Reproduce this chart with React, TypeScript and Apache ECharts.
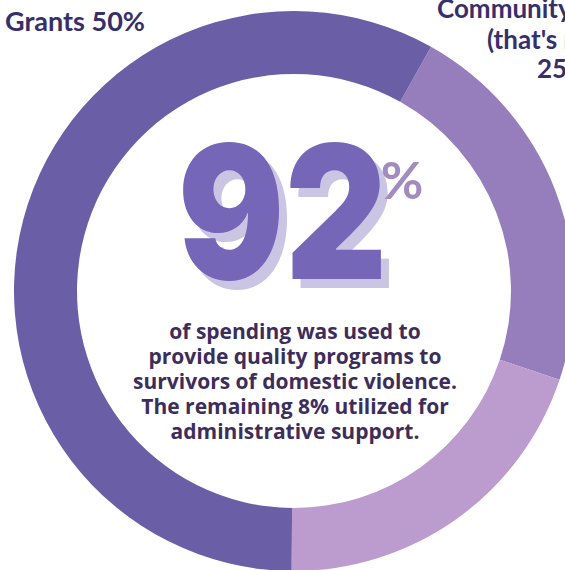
import React, { useEffect, useRef } from "react";
import * as echarts from "echarts";

const categories = ["Community Programs", "Shelter Services", "Grants"];
const values = [22, 20, 58];
const colors = ["#967dbb", "#bc9bce", "#6a5ea6"];
const grantsLabel = ["Grants 50%"];
const communityLabel = ["Community Programs", "(that's roughly", "25%)"];
const bigNumber = ["9", "2"];
const bigSuffix = "%";
const paragraph = [
  "of spending was used to",
  "provide quality programs to",
  "survivors of domestic violence.",
  "The remaining 8% utilized for",
  "administrative support.",
];

export default function App() {
  const ref = useRef<HTMLDivElement>(null);
  useEffect(() => {
    if (!ref.current) return;
    const chart = echarts.init(ref.current, null, { renderer: "svg" });
    const labelColor = "#372f6a";
    const bigFont = "Inter";
    const graphic: any[] = [];
    const digitX = [231, 336];
    const digitY = 212;
    const sx = 0.85;
    bigNumber.forEach((d, i) => {
      graphic.push({
        type: "text",
        x: digitX[i] + 8,
        y: digitY + 9,
        scaleX: sx,
        style: {
          text: d,
          fill: "#cbc5e4",
          font: `900 186px ${bigFont}`,
          align: "center",
          verticalAlign: "middle",
        },
      });
    });
    bigNumber.forEach((d, i) => {
      graphic.push({
        type: "text",
        x: digitX[i],
        y: digitY,
        scaleX: sx,
        style: {
          text: d,
          fill: "#7566b8",
          font: `900 186px ${bigFont}`,
          align: "center",
          verticalAlign: "middle",
        },
      });
    });
    graphic.push({
      type: "text",
      x: 402,
      y: 179,
      style: {
        text: bigSuffix,
        fill: "#a28bbf",
        font: `700 52px Lato`,
        align: "center",
        verticalAlign: "middle",
      },
    });
    graphic.push({
      type: "text",
      x: 295,
      y: 381,
      style: {
        text: paragraph.join("\n"),
        fill: "#3d2d5a",
        font: `700 21px "Open Sans"`,
        lineHeight: 25,
        align: "center",
        verticalAlign: "middle",
      },
    });
    graphic.push({
      type: "text",
      x: 5,
      y: 20,
      style: {
        text: grantsLabel[0],
        fill: labelColor,
        font: `700 27px Lato`,
        align: "left",
        verticalAlign: "middle",
      },
    });
    const commX = [437, 487, 537];
    const commY = [8, 39, 68];
    communityLabel.forEach((t, i) => {
      graphic.push({
        type: "text",
        x: commX[i],
        y: commY[i],
        style: {
          text: t,
          fill: labelColor,
          font: `700 26px Lato`,
          align: "left",
          verticalAlign: "middle",
        },
      });
    });

    chart.setOption({
      animation: false,
      backgroundColor: "#ffffff",
      series: [
        {
          type: "pie",
          center: [294, 291],
          radius: [217, 280],
          startAngle: 60.7,
          clockwise: true,
          label: { show: false },
          labelLine: { show: false },
          emphasis: { disabled: true },
          itemStyle: { borderWidth: 0 },
          data: categories.map((c, i) => ({
            name: c,
            value: values[i],
            itemStyle: { color: colors[i] },
          })),
        },
      ],
      graphic,
    });
    return () => chart.dispose();
  }, []);
  return (
    <div
      ref={ref}
      style={{
        position: "fixed",
        left: 0,
        top: 0,
        width: 565,
        height: 570,
        overflow: "hidden",
      }}
    />
  );
}
